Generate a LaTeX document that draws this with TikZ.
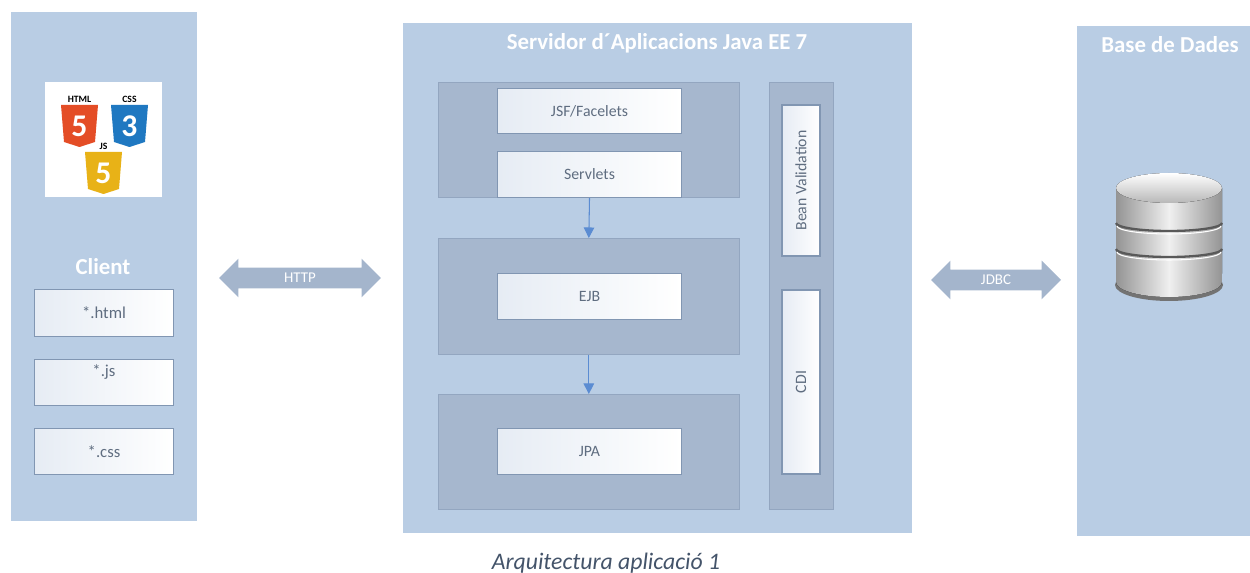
\documentclass[tikz,border=0pt]{standalone}
\usepackage{fontspec}
\setmainfont{Carlito}
\usetikzlibrary{shapes.arrows,arrows.meta}
\definecolor{panelblue}{HTML}{B9CDE4}
\definecolor{tierblue}{HTML}{A6B7CE}
\definecolor{tierline}{HTML}{93A6C0}
\definecolor{boxline}{HTML}{8196B2}
\definecolor{boxshade}{HTML}{E6ECF4}
\definecolor{boxtext}{HTML}{5F6D80}
\definecolor{linkblue}{HTML}{A4B5CC}
\definecolor{flowblue}{HTML}{5B8CD2}
\definecolor{captext}{HTML}{44546A}
\definecolor{htmlorange}{HTML}{E44D26}
\definecolor{cssblue}{HTML}{1F78C1}
\definecolor{jsyellow}{HTML}{E8B217}

\begin{document}
\begin{tikzpicture}[x=0.02cm, y=-0.02cm,
	panel/.style={fill=panelblue, draw=none, anchor=north west, inner sep=0},
	tier/.style={fill=tierblue, draw=tierline, line width=0.4pt, anchor=north west, inner sep=0},
	comp/.style={left color=boxshade, right color=white, draw=boxline, line width=0.6pt, text=boxtext, font=\fontsize{9}{11}\selectfont, inner sep=0},
	title/.style={text=white, font=\fontsize{13}{15}\selectfont\bfseries},
	link/.style={double arrow, fill=linkblue, text=white, font=\fontsize{8.5}{10}\selectfont, inner xsep=0, inner ysep=0, text height=0.29cm, text depth=0.11cm, double arrow head extend=0.18cm},
	flow/.style={flowblue, line width=0.6pt, -{Triangle[width=6pt,length=6pt]}}]
	\useasboundingbox (0,0) rectangle (1250,573);
	
	% client
	\node[panel, minimum width=3.72cm, minimum height=10.18cm] (client) at (11,12) {};
	\node[fill=white, anchor=north west, minimum width=2.34cm, minimum height=2.3cm, inner sep=0] (logo) at (45,82) {};
	\foreach \sx/\sy/\sc/\sd/\sl in {61/105/htmlorange/5/HTML, 111/105/cssblue/3/CSS, 85/152/jsyellow/5/JS}{
		\fill[\sc] (\sx,\sy) -- ++(37,0) -- ++(-3,37) -- ++(-15.5,5) -- ++(-15.5,-5) -- cycle;
		\node[text=white, font=\fontsize{18}{18}\selectfont\bfseries] (digit\sl) at (\sx+18.5,\sy+21) {\sd};
		\node[font=\fontsize{5.5}{6}\selectfont\bfseries] (label\sl) at (\sx+18.5,\sy-6) {\sl};
	}
	\node[title] (clienttitle) at (103,267) {Client};
	\node[comp, anchor=north west, minimum width=2.78cm, minimum height=0.94cm, font=\fontsize{9.5}{11}\selectfont] (html) at (34,289) {*.html};
	\node[comp, anchor=north west, minimum width=2.78cm, minimum height=0.92cm] (js) at (34,359) {};
	\node[text=boxtext, font=\fontsize{9.5}{11}\selectfont] (jstext) at (104,372) {*.js};
	\node[comp, anchor=north west, minimum width=2.78cm, minimum height=0.92cm, font=\fontsize{9.5}{11}\selectfont] (css) at (34,428) {*.css};
	
	% http
	\node[link, minimum height=3.24cm] (http) at (300,278) {HTTP};
	
	% server
	\node[panel, minimum width=10.18cm, minimum height=10.2cm] (server) at (403,23) {};
	\node[title] (servertitle) at (657,43) {Servidor d´Aplicacions Java EE 7};
	\node[tier, minimum width=6.02cm, minimum height=2.3cm] (webtier) at (438,82) {};
	\node[tier, minimum width=6.02cm, minimum height=2.32cm] (ejbtier) at (438,238) {};
	\node[tier, minimum width=6.02cm, minimum height=2.3cm] (jpatier) at (438,394) {};
	\node[comp, anchor=north west, minimum width=3.68cm, minimum height=0.9cm] (jsf) at (497,88) {JSF/Facelets};
	\node[comp, anchor=north west, minimum width=3.68cm, minimum height=0.92cm] (servlets) at (497,151) {Servlets};
	\node[comp, anchor=north west, minimum width=3.68cm, minimum height=0.92cm] (ejb) at (497,273) {EJB};
	\node[comp, anchor=north west, minimum width=3.68cm, minimum height=0.92cm] (jpa) at (497,428) {JPA};
	\draw[flow] (servlets.south) -- (ejbtier.north);
	\draw[flow] (ejbtier.south) -- (jpatier.north);
	
	% bean validation / cdi
	\node[tier, minimum width=1.28cm, minimum height=8.54cm] (sidecol) at (769,82) {};
	\node[comp, rotate=90, minimum width=3.02cm, minimum height=0.76cm] (bean) at (801,180.5) {Bean Validation};
	\node[comp, rotate=90, minimum width=3.68cm, minimum height=0.76cm] (cdi) at (801,382) {CDI};
	
	% jdbc
	\node[link, minimum height=2.6cm] (jdbc) at (996,280) {JDBC};
	
	% database
	\node[panel, minimum width=3.46cm, minimum height=10.2cm] (db) at (1077,26) {};
	\node[title] (dbtitle) at (1170,45) {Base de Dades};
	\fill[black!55] (1169,285) ellipse[x radius=1.08cm, y radius=0.32cm];
	\fill[left color=black!42, right color=black!42, middle color=black!6] (1116,188) -- (1116,282) arc[start angle=180, end angle=360, x radius=1.06cm, y radius=0.3cm] -- (1222,188) -- cycle;
	\fill[top color=white, bottom color=black!28] (1169,188) ellipse[x radius=1.06cm, y radius=0.3cm];
	\draw[black!65, line width=1.3pt] (1116,223) arc[start angle=180, end angle=360, x radius=1.06cm, y radius=0.16cm];
	\draw[black!65, line width=1.3pt] (1116,249) arc[start angle=180, end angle=360, x radius=1.06cm, y radius=0.16cm];
	\draw[white, line width=0.6pt] (1117,226) arc[start angle=180, end angle=360, x radius=1.04cm, y radius=0.16cm];
	\draw[white, line width=0.6pt] (1117,252) arc[start angle=180, end angle=360, x radius=1.04cm, y radius=0.16cm];
	
	% caption
	\node[text=captext, font=\fontsize{13.5}{15}\selectfont\itshape] (caption) at (606,563) {Arquitectura aplicació 1};
\end{tikzpicture}
\end{document}
